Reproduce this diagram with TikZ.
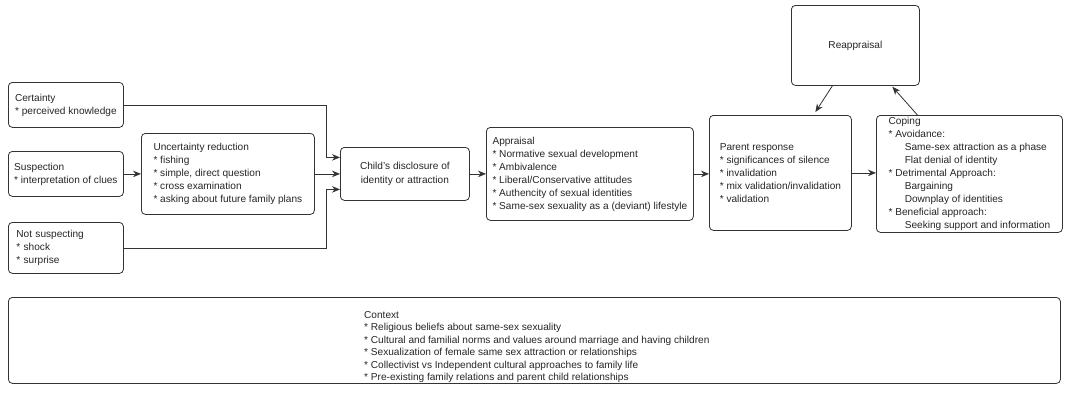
\documentclass[tikz,border=0pt]{standalone}
\usepackage{fontspec}
\setmainfont{Liberation Sans}
\usetikzlibrary{arrows.meta,calc}
\begin{document}
\begin{tikzpicture}[x=1pt,y=-1pt,
  box/.style={draw=black!80,line width=0.8pt,rounded corners=4pt,anchor=north west,inner sep=0pt,
    font=\fontsize{10.1}{13}\selectfont,align=left,text=black!85},
  plain/.style={inner sep=0pt,font=\fontsize{10.1}{12.5}\selectfont,align=left,text=black!85},
  arr/.style={draw=black!80,line width=0.8pt,-{Stealth[length=8pt,width=6.5pt]}}]
\useasboundingbox[fill=white] (0,0) rectangle (1065,413);
\def\ind{\hspace*{1.6em}}
\node[box,minimum width=115pt,minimum height=45pt] (cert) at (8,82)
  {Certainty\\{}* perceived knowledge};
\node[box,minimum width=115pt,minimum height=45pt] (susp) at (8,151)
  {Suspection\\{}* interpretation of clues};
\node[box,minimum width=115pt,minimum height=51pt,text width=99pt,inner xsep=8pt] (nots) at (8,222)
  {Not suspecting\\{}* shock\\{}* surprise};
\node[box,minimum width=173pt,minimum height=81pt] (unc) at (141,133)
  {Uncertainty reduction\\{}* fishing\\{}* simple, direct question\\{}* cross examination\\{}* asking about future family plans};
\node[box,minimum width=129pt,minimum height=53pt,align=center,font=\fontsize{10.1}{14.5}\selectfont] (child) at (340,147)
  {Child's disclosure of\\identity or attraction};
\node[box,minimum width=207pt,minimum height=93pt] (appr) at (486,127)
  {Appraisal\\{}* Normative sexual development\\{}* Ambivalence\\{}* Liberal/Conservative attitudes\\{}* Authencity of sexual identities\\{}* Same-sex sexuality as a (deviant) lifestyle};
\node[box,minimum width=142pt,minimum height=115pt] (par) at (709,115)
  {Parent response\\{}* significances of silence\\{}* invalidation\\{}* mix validation/invalidation\\{}* validation};
\node[box,minimum width=186pt,minimum height=117pt] (cop) at (876,115)
  {Coping\\{}* Avoidance:\\\ind Same-sex attraction as a phase\\\ind Flat denial of identity\\{}* Detrimental Approach:\\\ind Bargaining\\\ind Downplay of identities\\{}* Beneficial approach:\\\ind Seeking support and information};
\node[box,minimum width=128pt,minimum height=80pt,align=center] (reap) at (791,5)
  {Reappraisal};
\node[box,minimum width=1052pt,minimum height=86pt] (ctx) at (8,297) {};
\node[plain,anchor=north west] (ctxtext) at ([xshift=356pt,yshift=-14pt]ctx.north west)
  {Context\\{}* Religious beliefs about same-sex sexuality\\{}* Cultural and familial norms and values around marriage and having children\\{}* Sexualization of female same sex attraction or relationships\\{}* Collectivist vs Independent cultural approaches to family life\\{}* Pre-existing family relations and parent child relationships};
\draw[arr] (cert.east) -| ([xshift=-14pt,yshift=16.5pt]child.west) -- ([yshift=16.5pt]child.west);
\draw[arr] (nots.east) -| ([xshift=-14pt,yshift=-15.5pt]child.west) -- ([yshift=-15.5pt]child.west);
\draw[arr] (susp.east) -- (susp.east -| unc.west);
\draw[arr] (unc.east) -- (unc.east -| child.west);
\draw[arr] (child.east) -- (child.east -| appr.west);
\draw[arr] (appr.east) -- (appr.east -| par.west);
\draw[arr] (par.east) -- (par.east -| cop.west);
\draw[arr] ([xshift=-23pt]reap.south) -- ([xshift=35pt,yshift=3pt]par.north);
\draw[arr] ([xshift=-52pt]cop.north) -- ([xshift=37pt,yshift=-1pt]reap.south);
\end{tikzpicture}
\end{document}
